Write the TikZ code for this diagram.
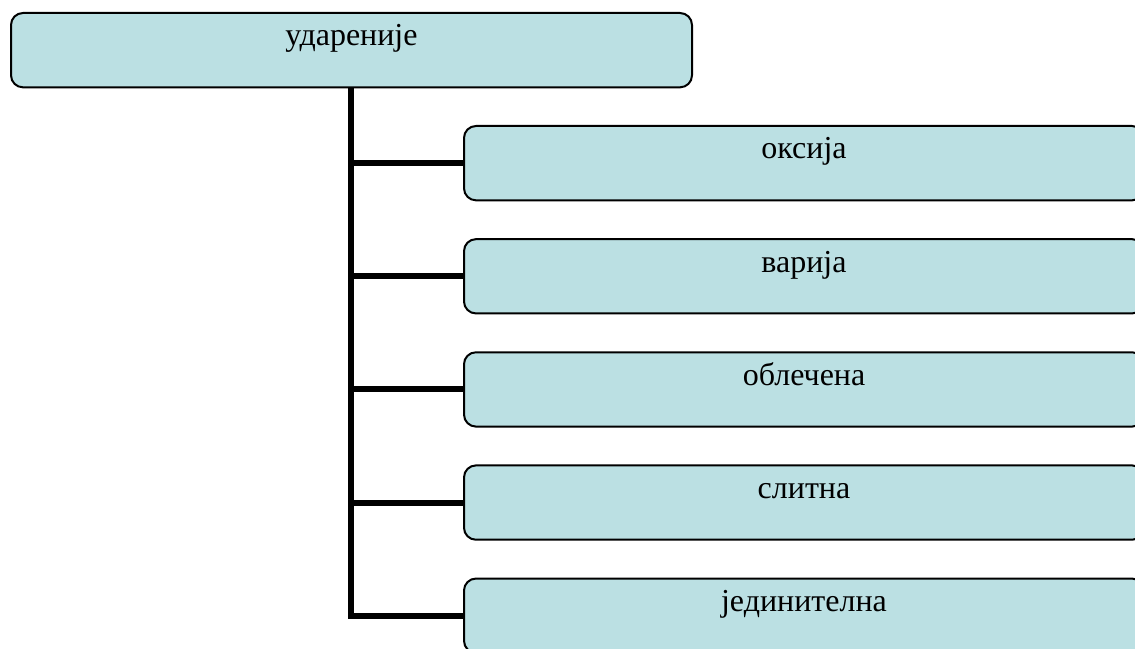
\documentclass[tikz,border=0pt]{standalone}
\usepackage{fontspec}
\setmainfont{Liberation Serif}
\usetikzlibrary{positioning}
\definecolor{boxfill}{HTML}{BBE0E3}

\begin{document}
\begin{tikzpicture}[x=0.75pt,y=-0.75pt,
    node distance=27.6pt,
    accentbox/.style={draw=black,line width=1.5pt,fill=boxfill,rounded corners=9pt,
      inner sep=0pt,text height=24.75pt,text depth=31pt,
      font=\fontsize{24}{28}\selectfont},
    trunk/.style={line width=4.5pt,line join=miter}]
    \useasboundingbox (0,0) rectangle (1135,649);
    \clip (0,0) rectangle (1135,649);
    % root
    \node[accentbox,minimum width=510.75pt,anchor=north west] (udarenije) at (10,12) {удареније};
    % children
    \node[accentbox,minimum width=510pt,anchor=north west] (oksija) at (463,125) {оксија};
    \node[accentbox,minimum width=510pt,below=of oksija] (varija) {варија};
    \node[accentbox,minimum width=510pt,below=of varija] (oblecena) {облечена};
    \node[accentbox,minimum width=510pt,below=of oblecena] (slitna) {слитна};
    \node[accentbox,minimum width=510pt,below=of slitna] (jedinitelna) {јединителна};
    % connectors
    \coordinate (spine) at (351,0);
    \draw[trunk] (spine |- udarenije.south) -- (spine |- jedinitelna.west) -- (jedinitelna.west);
    \foreach \n in {oksija,varija,oblecena,slitna}
      \draw[trunk] (spine |- \n.west) -- (\n.west);
\end{tikzpicture}
\end{document}
